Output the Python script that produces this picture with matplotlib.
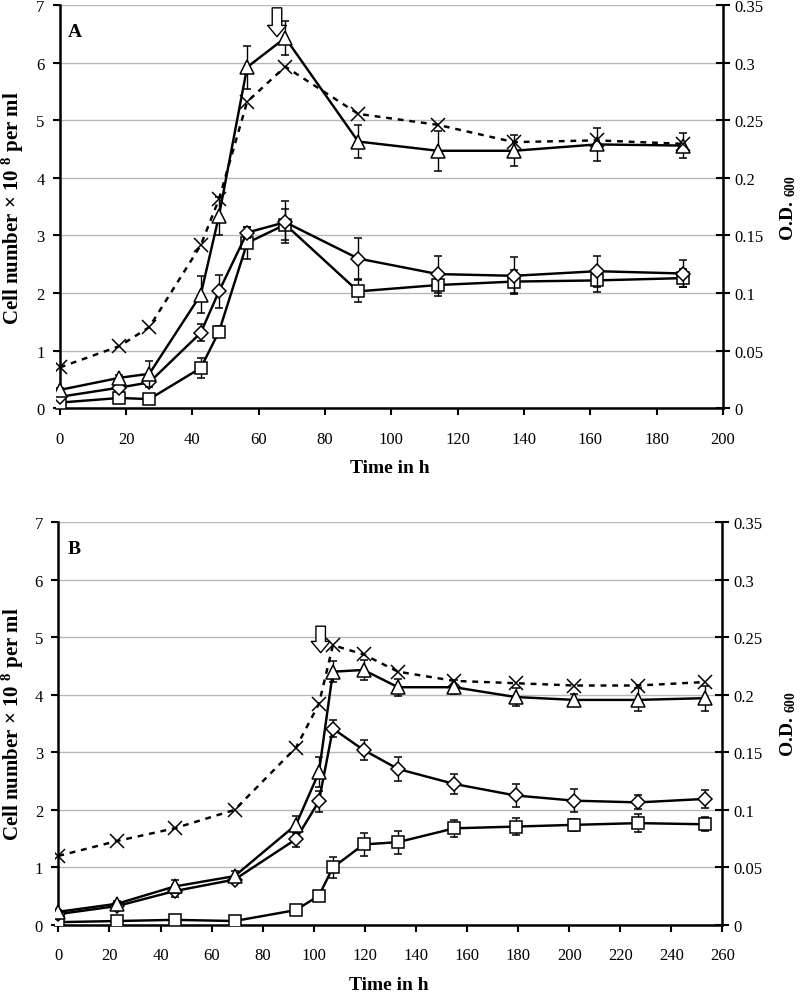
import matplotlib
matplotlib.use("Agg")
import matplotlib.pyplot as plt
import numpy as np

plt.rcParams['font.family'] = ['Liberation Serif', 'DejaVu Serif']
plt.rcParams['mathtext.fontset'] = 'custom'
plt.rcParams['mathtext.rm'] = 'Liberation Serif'
plt.rcParams['mathtext.bf'] = 'Liberation Serif:bold'

# ---------------- Panel A data ----------------
tA = [0, 18, 27, 42.5, 48, 56.5, 68, 90, 114, 137, 162, 188]
triA = [0.32, 0.53, 0.60, 1.97, 3.34, 5.92, 6.43, 4.63, 4.47, 4.47, 4.58, 4.56]
triA_err = [0.03, 0.04, 0.23, 0.32, 0.33, 0.37, 0.30, 0.29, 0.35, 0.27, 0.28, 0.21]
diaA = [0.20, 0.36, 0.45, 1.31, 2.03, 3.05, 3.23, 2.60, 2.33, 2.30, 2.38, 2.34]
diaA_err = [0.02, 0.03, 0.05, 0.15, 0.29, 0.10, 0.36, 0.36, 0.32, 0.32, 0.27, 0.23]
sqA = [0.10, 0.18, 0.16, 0.70, 1.33, 2.87, 3.19, 2.03, 2.14, 2.20, 2.22, 2.26]
sqA_err = [0.02, 0.03, 0.03, 0.17, 0.10, 0.27, 0.27, 0.19, 0.19, 0.20, 0.20, 0.15]
odA = [0.0355, 0.054, 0.0705, 0.1415, 0.1815, 0.266, 0.2965, 0.2555, 0.246, 0.231, 0.2325, 0.2295]
arrowA = (65.5, 6.95, 6.45)   # time, top, tip (cell-number units)

# ---------------- Panel B data ----------------
tB = [0, 23, 45.5, 69, 93, 102, 107.5, 119.5, 133, 155, 179, 202, 227, 253]
triB = [0.23, 0.37, 0.67, 0.85, 1.74, 2.65, 4.40, 4.43, 4.13, 4.13, 3.96, 3.91, 3.91, 3.94]
triB_err = [0.03, 0.04, 0.12, 0.08, 0.15, 0.26, 0.18, 0.18, 0.15, 0.12, 0.15, 0.10, 0.20, 0.22]
diaB = [0.19, 0.33, 0.59, 0.79, 1.49, 2.15, 3.41, 3.04, 2.71, 2.45, 2.25, 2.16, 2.13, 2.19]
diaB_err = [0.02, 0.03, 0.10, 0.05, 0.13, 0.18, 0.15, 0.17, 0.20, 0.18, 0.20, 0.20, 0.12, 0.15]
sqB = [0.05, 0.07, 0.09, 0.07, 0.26, 0.51, 1.00, 1.40, 1.44, 1.68, 1.71, 1.74, 1.77, 1.75]
sqB_err = [0.01, 0.01, 0.01, 0.01, 0.03, 0.03, 0.18, 0.20, 0.20, 0.15, 0.15, 0.10, 0.15, 0.12]
odB = [0.060, 0.073, 0.084, 0.100, 0.154, 0.192, 0.243, 0.235, 0.220, 0.212, 0.210, 0.208, 0.208, 0.211]
arrowB = (102.7, 5.19, 4.73)

left_ticks = [0, 1, 2, 3, 4, 5, 6, 7]
right_ticks = [0, 0.05, 0.1, 0.15, 0.2, 0.25, 0.3, 0.35]
right_labels = ['0', '0.05', '0.1', '0.15', '0.2', '0.25', '0.3', '0.35']

fig = plt.figure(figsize=(8.0, 9.95), dpi=100)

TICK_FS = 12
LAB_FS = 14


def panel(rect, t, tri, tri_e, dia, dia_e, sq, sq_e, od, arrow, xmax, xstep, letter):
    ax = fig.add_axes(rect)
    ax.set_xlim(-1.2, xmax)
    ax.set_ylim(0, 7)
    ax.set_yticks(left_ticks)
    ax.set_xticks(np.arange(0, xmax + 1, xstep))
    ax.grid(axis='y', color='#b8b8b8', lw=1.0, zorder=0)
    ax.set_axisbelow(True)
    for s in ['top', 'right']:
        ax.spines[s].set_visible(False)
    for s in ['left', 'bottom']:
        ax.spines[s].set_linewidth(1.8)
    ax.spines['left'].set_position(('data', 0))
    ax.tick_params(axis='y', direction='out', length=5, width=1.5, labelsize=TICK_FS, pad=6)
    ax.tick_params(axis='x', direction='out', length=5, width=1.5, labelsize=TICK_FS, pad=11)

    ekw = dict(elinewidth=1.0, capsize=3.2, capthick=1.0, ecolor='black')
    lkw = dict(color='black', lw=1.75, markerfacecolor='white', markeredgecolor='black',
               markeredgewidth=1.1)
    ax.errorbar(t, sq, yerr=sq_e, marker='s', ms=8, zorder=3, **ekw, **lkw)
    ax.errorbar(t, dia, yerr=dia_e, marker='D', ms=7, zorder=4, **ekw, **lkw)
    ax.errorbar(t, tri, yerr=tri_e, marker='^', ms=10, zorder=5, **ekw, **lkw)

    ax2 = ax.twinx()
    ax2.set_ylim(0, 0.35)
    ax2.set_yticks(right_ticks)
    ax2.set_yticklabels(right_labels)
    for s in ['top', 'left', 'bottom']:
        ax2.spines[s].set_visible(False)
    ax2.spines['right'].set_linewidth(1.8)
    ax2.tick_params(axis='y', direction='inout', length=10, width=1.5, labelsize=TICK_FS, pad=3)
    ax2.plot(t, od, color='black', lw=1.75, ls=(0, (2.4, 2.4)), marker='x', ms=9.5,
             markeredgewidth=1.1, zorder=6)

    ax.annotate('', xy=(arrow[0], arrow[2]), xytext=(arrow[0], arrow[1]),
                arrowprops=dict(arrowstyle='simple,head_length=0.45,head_width=0.75,tail_width=0.38',
                                fc='white', ec='black', lw=1.0, shrinkA=0, shrinkB=0,
                                mutation_scale=18), zorder=7)

    ax.text(0.018, 0.933, letter, transform=ax.transAxes, fontsize=14, fontweight='bold',
            ha='left', va='center')
    ax.set_xlabel('Time in h', fontsize=LAB_FS, fontweight='bold', labelpad=9)
    ax.set_ylabel(r'Cell number × 10 $\mathbf{^{8}}$ per ml', fontsize=15, fontweight='bold',
                  va='center')
    ax.yaxis.set_label_coords(-0.064, 0.5)
    ax2.set_ylabel(r'O.D. $\mathbf{_{600}}$', fontsize=LAB_FS, fontweight='bold', rotation=90,
                   va='center')
    ax2.yaxis.set_label_coords(1.098, 0.5)
    return ax, ax2


panel([0.0698, 0.5886, 0.8338, 0.4054], tA, triA, triA_err, diaA, diaA_err, sqA, sqA_err, odA,
      arrowA, 200, 20, 'A')
panel([0.0691, 0.0693, 0.8340, 0.4051], tB, triB, triB_err, diaB, diaB_err, sqB, sqB_err, odB,
      arrowB, 260, 20, 'B')

fig.savefig('out.png', dpi=100)
